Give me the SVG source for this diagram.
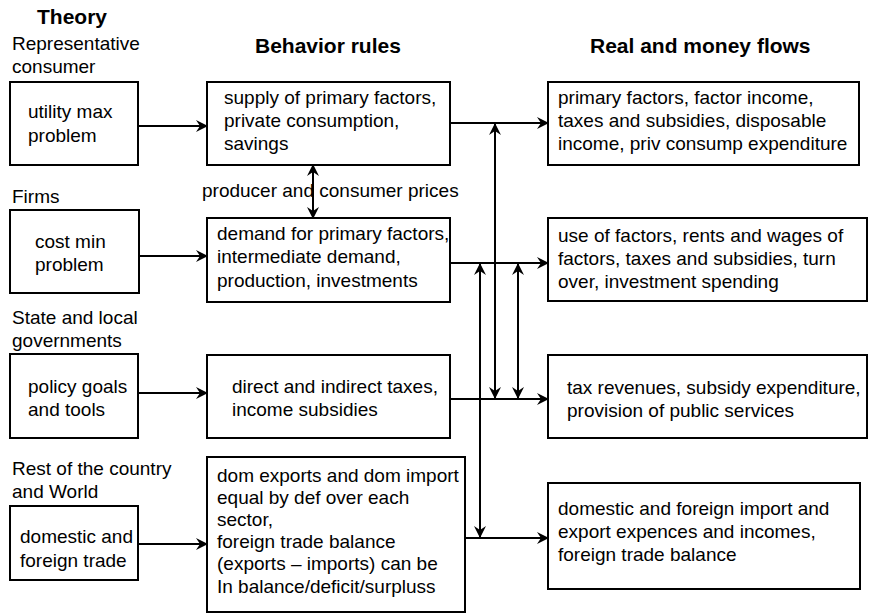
<svg xmlns="http://www.w3.org/2000/svg" width="870" height="615" viewBox="0 0 870 615">
<style>
.box{fill:#fff;stroke:#000;stroke-width:2}
.t{font-family:"Liberation Sans",Arial,sans-serif;font-size:19px;fill:#000}
.h{font-family:"Liberation Sans",Arial,sans-serif;font-size:21px;font-weight:bold;fill:#000}
.c{stroke:#000;stroke-width:2;fill:none}
</style>
<defs>
<marker id="ah" viewBox="0 0 12 12" refX="11" refY="6" markerWidth="12" markerHeight="12" markerUnits="userSpaceOnUse" orient="auto-start-reverse">
<path d="M0,0 L12,6 L0,12 L4,6 z" fill="#000"/>
</marker>
</defs>
<rect width="870" height="615" fill="#fff"/>
<g id="headers">
<text class="h" x="37" y="24">Theory</text>
<text class="h" x="255" y="53">Behavior rules</text>
<text class="h" x="590" y="53">Real and money flows</text>
</g>
<g id="labels">
<text class="t" x="12" y="50">Representative</text>
<text class="t" x="12" y="73">consumer</text>
<text class="t" x="12" y="203">Firms</text>
<text class="t" x="12" y="324">State and local</text>
<text class="t" x="12" y="347">governments</text>
<text class="t" x="12" y="475">Rest of the country</text>
<text class="t" x="12" y="498">and World</text>
<text class="t" x="202" y="197">producer and consumer prices</text>
</g>
<g id="n-utility"><rect class="box" x="10" y="82" width="128" height="83"/>
<text class="t" x="28" y="118">utility max</text><text class="t" x="28" y="142">problem</text></g>
<g id="n-cost"><rect class="box" x="10" y="210" width="129" height="83"/>
<text class="t" x="35" y="248">cost min</text><text class="t" x="35" y="271">problem</text></g>
<g id="n-policy"><rect class="box" x="10" y="354" width="128" height="84"/>
<text class="t" x="28" y="393">policy goals</text><text class="t" x="28" y="416">and tools</text></g>
<g id="n-trade"><rect class="box" x="10" y="506" width="128" height="74"/>
<text class="t" x="20" y="543">domestic and</text><text class="t" x="20" y="567">foreign trade</text></g>
<g id="n-supply"><rect class="box" x="207" y="82" width="243" height="83"/>
<text class="t" x="224" y="104">supply of primary factors,</text>
<text class="t" x="224" y="127">private consumption,</text>
<text class="t" x="224" y="150">savings</text></g>
<g id="n-demand"><rect class="box" x="207" y="218" width="243" height="84"/>
<text class="t" x="217" y="240">demand for primary factors,</text>
<text class="t" x="217" y="263">intermediate demand,</text>
<text class="t" x="217" y="287">production, investments</text></g>
<g id="n-taxes"><rect class="box" x="207" y="355" width="243" height="83"/>
<text class="t" x="232" y="393">direct and indirect taxes,</text>
<text class="t" x="232" y="416">income subsidies</text></g>
<g id="n-dom"><rect class="box" x="207" y="457" width="258" height="155"/>
<text class="t" x="217" y="482">dom exports and dom import</text>
<text class="t" x="217" y="504">equal by def over each</text>
<text class="t" x="217" y="526">sector,</text>
<text class="t" x="217" y="548">foreign trade balance</text>
<text class="t" x="217" y="570">(exports – imports) can be</text>
<text class="t" x="217" y="593">In balance/deficit/surpluss</text></g>
<g id="n-primary"><rect class="box" x="548" y="82" width="311" height="83"/>
<text class="t" x="558" y="104">primary factors, factor income,</text>
<text class="t" x="558" y="127">taxes and subsidies, disposable</text>
<text class="t" x="558" y="150">income, priv consump expenditure</text></g>
<g id="n-use"><rect class="box" x="548" y="218" width="319" height="83"/>
<text class="t" x="558" y="242">use of factors, rents and wages of</text>
<text class="t" x="558" y="265">factors, taxes and subsidies, turn</text>
<text class="t" x="558" y="288">over, investment spending</text></g>
<g id="n-revenues"><rect class="box" x="548" y="355" width="319" height="83"/>
<text class="t" x="567" y="394">tax revenues, subsidy expenditure,</text>
<text class="t" x="567" y="417">provision of public services</text></g>
<g id="n-import"><rect class="box" x="548" y="483" width="312" height="106"/>
<text class="t" x="558" y="515">domestic and foreign import and</text>
<text class="t" x="558" y="538">export  expences and incomes,</text>
<text class="t" x="558" y="561">foreign trade balance</text></g>
<g id="connectors">
<line class="c" x1="138" y1="126" x2="207" y2="126" marker-end="url(#ah)"/>
<line class="c" x1="139" y1="256" x2="207" y2="256" marker-end="url(#ah)"/>
<line class="c" x1="138" y1="393" x2="207" y2="393" marker-end="url(#ah)"/>
<line class="c" x1="138" y1="544" x2="207" y2="544" marker-end="url(#ah)"/>
<line class="c" x1="450" y1="123" x2="548" y2="123" marker-end="url(#ah)"/>
<line class="c" x1="450" y1="263" x2="548" y2="263" marker-end="url(#ah)"/>
<line class="c" x1="450" y1="399" x2="548" y2="399" marker-end="url(#ah)"/>
<line class="c" x1="465" y1="538" x2="548" y2="538" marker-end="url(#ah)"/>
<line class="c" x1="480" y1="264" x2="480" y2="537" marker-start="url(#ah)" marker-end="url(#ah)"/>
<line class="c" x1="495" y1="124" x2="495" y2="398" marker-start="url(#ah)" marker-end="url(#ah)"/>
<line class="c" x1="518" y1="264" x2="518" y2="398" marker-start="url(#ah)" marker-end="url(#ah)"/>
<line class="c" x1="313" y1="165" x2="313" y2="218" marker-start="url(#ah)" marker-end="url(#ah)"/>
</g>
</svg>
